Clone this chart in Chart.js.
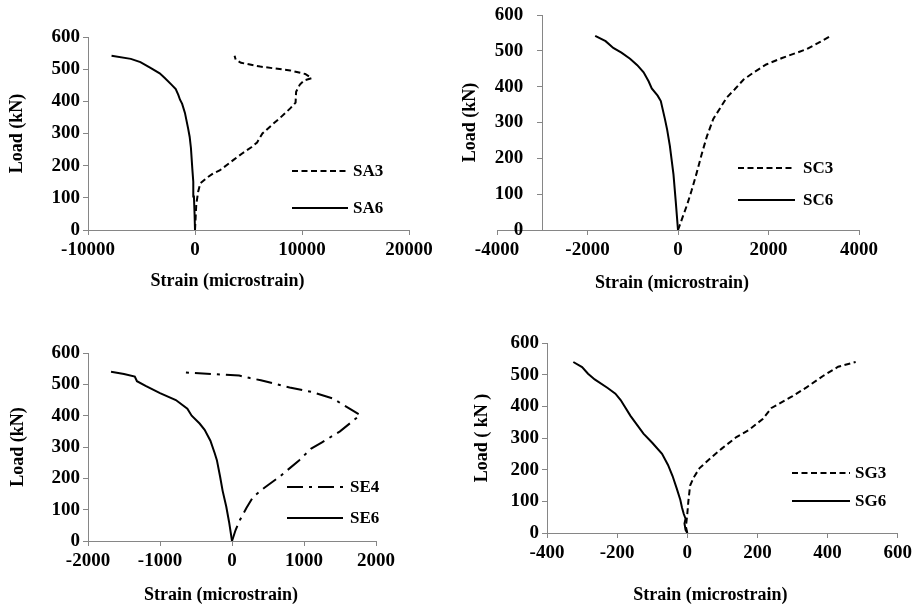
<!DOCTYPE html>
<html>
<head>
<meta charset="utf-8">
<script src="https://cdn.jsdelivr.net/npm/chart.js@4.4.0/dist/chart.umd.min.js"></script>
<style>
  body { margin: 0; background: #fff; }
  #page { position: relative; width: 916px; height: 606px; background: #fff; }
  .panel { position: absolute; }
</style>
</head>
<body>
<div id="page">
  <div class="panel" id="p1" style="left:0px;top:0px;width:458px;height:300px"><canvas id="c1"></canvas></div>
  <div class="panel" id="p2" style="left:458px;top:0px;width:458px;height:300px"><canvas id="c2"></canvas></div>
  <div class="panel" id="p3" style="left:0px;top:300px;width:458px;height:306px"><canvas id="c3"></canvas></div>
  <div class="panel" id="p4" style="left:458px;top:300px;width:458px;height:306px"><canvas id="c4"></canvas></div>
</div>
<script>
// values (strain in microstrain, load in kN)
const sa3Strain = [0, 60, 120, 300, 500, 1100, 1700, 2300, 3600, 4500, 5300, 5800, 6300, 7300, 8000, 8900, 9400, 9450, 9800, 10200, 10900, 10300, 8900, 6100, 4300, 3800, 3700];
const sa3Load   = [0, 40, 80, 120, 145, 162, 176, 185, 218, 240, 258, 272, 300, 330, 350, 378, 396, 430, 452, 465, 472, 485, 496, 508, 520, 530, 542];
const sa6Strain = [0, -40, -100, -160, -250, -380, -500, -640, -940, -1200, -1400, -1560, -1800, -2200, -2800, -3300, -4200, -5100, -6000, -7800];
const sa6Load   = [0, 50, 104, 150, 190, 255, 290, 315, 364, 392, 405, 420, 438, 452, 472, 487, 505, 522, 532, 542];

const sc3Strain = [0, 100, 200, 300, 410, 520, 640, 780, 930, 1080, 1250, 1450, 1700, 1950, 2300, 2850, 3100, 3350];
const sc3Load   = [0, 35, 70, 110, 158, 210, 262, 310, 340, 370, 392, 420, 442, 462, 480, 505, 522, 540];
const sc6Strain = [0, -50, -100, -180, -240, -290, -380, -450, -580, -650, -760, -900, -1060, -1250, -1430, -1600, -1830];
const sc6Load   = [0, 80, 155, 235, 280, 310, 360, 375, 395, 415, 440, 460, 478, 495, 508, 527, 542];

const se4Strain = [0, 50, 110, 200, 290, 450, 660, 935, 1100, 1250, 1500, 1780, 1650, 1520, 1400, 1100, 800, 400, 250, 100, -670];
const se4Load   = [0, 35, 67, 105, 140, 170, 205, 258, 295, 315, 350, 402, 420, 438, 455, 476, 490, 513, 520, 528, 538];
const se6Strain = [0, -40, -80, -130, -165, -210, -240, -300, -380, -450, -560, -620, -780, -1000, -1200, -1320, -1350, -1500, -1680];
const se6Load   = [0, 60, 110, 160, 205, 258, 280, 320, 355, 375, 400, 422, 450, 472, 495, 510, 525, 533, 540];

const sg3Strain = [0, -4, -2, 0, 3, 8, 18, 35, 70, 100, 140, 175, 215, 240, 300, 340, 390, 430, 480];
const sg3Load   = [0, 20, 40, 60, 100, 150, 175, 205, 240, 268, 303, 325, 360, 395, 432, 460, 498, 525, 540];
const sg6Strain = [0, -5, -8, -5, -10, -15, -20, -30, -42, -55, -72, -100, -125, -162, -190, -205, -227, -264, -283, -300, -325];
const sg6Load   = [0, 10, 30, 45, 60, 80, 105, 140, 180, 215, 250, 285, 314, 370, 420, 440, 458, 485, 503, 524, 540];

const loadTicks = [0, 100, 200, 300, 400, 500, 600];

const FONT = '"Liberation Serif", "Times New Roman", serif';
Chart.defaults.font.family = FONT;
Chart.defaults.font.size = 19;
Chart.defaults.font.weight = 'bold';
Chart.defaults.color = '#000';

const AXIS_GREY = '#868686';
const DASHED = [6, 3.5];
const DASH_DOT = [16, 6, 3, 6];
const TITLE_FONT = { family: FONT, size: 18, weight: 'bold' };
const TITLE_HALF = 18 * 1.2 / 2;

function points(xs, ys) {
    return xs.map((x, i) => ({ x: x, y: ys[i] }));
}

function series(label, xs, ys, dash) {
    return {
        label: label,
        data: points(xs, ys),
        showLine: true,
        borderColor: '#000',
        backgroundColor: '#000',
        borderWidth: 2,
        borderDash: dash,
        pointRadius: 0,
        tension: 0,
        yAxisID: 'y'
    };
}

// legend drawn as a line sample with the dataset's own dash, then its label
const lineLegend = {
    id: 'lineLegend',
    afterDraw(chart, args, opts) {
        const ctx = chart.ctx;
        ctx.save();
        chart.data.datasets.forEach((ds, i) => {
            const y = opts.ys[i];
            ctx.strokeStyle = ds.borderColor;
            ctx.lineWidth = ds.borderWidth;
            ctx.setLineDash(ds.borderDash || []);
            ctx.beginPath();
            ctx.moveTo(opts.x1, y);
            ctx.lineTo(opts.x2, y);
            ctx.stroke();
            ctx.setLineDash([]);
            ctx.fillStyle = '#000';
            ctx.font = 'bold 17px ' + FONT;
            ctx.textBaseline = 'middle';
            ctx.textAlign = 'left';
            ctx.fillText(ds.label, opts.textX, y + 1);
        });
        ctx.restore();
    }
};

// small nudges: x title sits left of the plot centre, and the crossing
// y axis of the SC panel keeps its labels clear of the axis line
const nudge = {
    id: 'nudge',
    afterLayout(chart, args, opts) {
        const shift = (sc, name, dx) => {
            if (!sc || !dx || sc['_n_' + name]) return;
            const orig = sc[name].bind(sc);
            sc[name] = function (a) {
                chart.ctx.save();
                chart.ctx.translate(dx, 0);
                orig(a);
                chart.ctx.restore();
            };
            sc['_n_' + name] = true;
        };
        shift(chart.scales.x, 'drawTitle', opts.titleDx);
        shift(chart.scales.y, 'drawLabels', opts.yLabelDx);
    }
};

function makePanel(canvasId, p) {
    const gridOpts = {
        display: true,
        drawOnChartArea: false,
        drawTicks: true,
        tickLength: 5,
        color: AXIS_GREY,
        lineWidth: 1
    };
    const scales = {
        x: {
            type: 'linear',
            position: 'bottom',
            min: p.xMin,
            max: p.xMax,
            ticks: { stepSize: p.xStep, padding: 4, maxRotation: 0, autoSkip: false, callback: v => String(v) },
            grid: gridOpts,
            border: { color: AXIS_GREY, width: 1 },
            title: {
                display: true,
                text: 'Strain (microstrain)',
                font: TITLE_FONT,
                padding: { top: 0, bottom: p.h - TITLE_HALF - p.xTitleY }
            },
            afterFit: (s) => { s.height = p.h - p.area.b; }
        },
        y: {
            type: 'linear',
            position: p.yAt !== undefined ? { x: p.yAt } : 'left',
            min: 0,
            max: 600,
            afterBuildTicks: (s) => { s.ticks = loadTicks.map(v => ({ value: v })); },
            ticks: { padding: 3, callback: v => String(v) },
            grid: gridOpts,
            border: { color: AXIS_GREY, width: 1 },
            title: {
                display: p.yAt === undefined,
                text: p.yTitle,
                font: TITLE_FONT,
                padding: { top: p.yTitleX - TITLE_HALF, bottom: 0 }
            },
            afterFit: (s) => { s.width = p.area.l; }
        }
    };
    if (p.yAt !== undefined) {
        // a bare left axis only to carry the title and reserve the left margin
        scales.yt = {
            type: 'linear',
            position: 'left',
            min: 0,
            max: 600,
            ticks: { display: false },
            grid: { display: false },
            border: { display: false },
            title: {
                display: true,
                text: p.yTitle,
                font: TITLE_FONT,
                padding: { top: p.yTitleX - TITLE_HALF, bottom: 0 }
            },
            afterFit: (s) => { s.width = p.area.l; }
        };
    }

    return new Chart(document.getElementById(canvasId), {
        type: 'scatter',
        data: { datasets: p.datasets },
        options: {
            responsive: true,
            maintainAspectRatio: false,
            animation: false,
            layout: {
                padding: { left: 0, top: p.area.t, right: p.w - p.area.r, bottom: 0 }
            },
            scales: scales,
            plugins: {
                legend: { display: false },
                tooltip: { enabled: false },
                lineLegend: p.legend,
                nudge: { titleDx: p.titleDx, yLabelDx: p.yLabelDx || 0 }
            }
        },
        plugins: [lineLegend, nudge]
    });
}

makePanel('c1', {
    w: 458, h: 300,
    area: { l: 88, r: 409, t: 37, b: 230 },
    xMin: -10000, xMax: 20000, xStep: 10000,
    yTitle: 'Load (kN)', yTitleX: 17, xTitleY: 281, titleDx: -21,
    legend: { x1: 292, x2: 348, textX: 353, ys: [171, 208] },
    datasets: [
        series('SA3', sa3Strain, sa3Load, DASHED),
        series('SA6', sa6Strain, sa6Load, [])
    ]
});

makePanel('c2', {
    w: 458, h: 300,
    area: { l: 39, r: 401, t: 15, b: 230 },
    xMin: -4000, xMax: 4000, xStep: 2000, yAt: -3000, yLabelDx: -19,
    yTitle: 'Load (kN)', yTitleX: 12, xTitleY: 283, titleDx: -6,
    legend: { x1: 280, x2: 337, textX: 345, ys: [168, 200] },
    datasets: [
        series('SC3', sc3Strain, sc3Load, DASHED),
        series('SC6', sc6Strain, sc6Load, [])
    ]
});

makePanel('c3', {
    w: 458, h: 306,
    area: { l: 88, r: 376, t: 53, b: 241 },
    xMin: -2000, xMax: 2000, xStep: 1000,
    yTitle: 'Load (kN)', yTitleX: 18, xTitleY: 295, titleDx: -11,
    legend: { x1: 287, x2: 343, textX: 350, ys: [187, 218] },
    datasets: [
        series('SE4', se4Strain, se4Load, DASH_DOT),
        series('SE6', se6Strain, se6Load, [])
    ]
});

makePanel('c4', {
    w: 458, h: 306,
    area: { l: 89, r: 444, t: 43, b: 233 },
    xMin: -400, xMax: 600, xStep: 200,
    yTitle: 'Load ( kN )', yTitleX: 24, xTitleY: 295, titleDx: -12,
    legend: { x1: 334, x2: 392, textX: 397, ys: [173, 201] },
    datasets: [
        series('SG3', sg3Strain, sg3Load, DASHED),
        series('SG6', sg6Strain, sg6Load, [])
    ]
});
</script>
</body>
</html>
